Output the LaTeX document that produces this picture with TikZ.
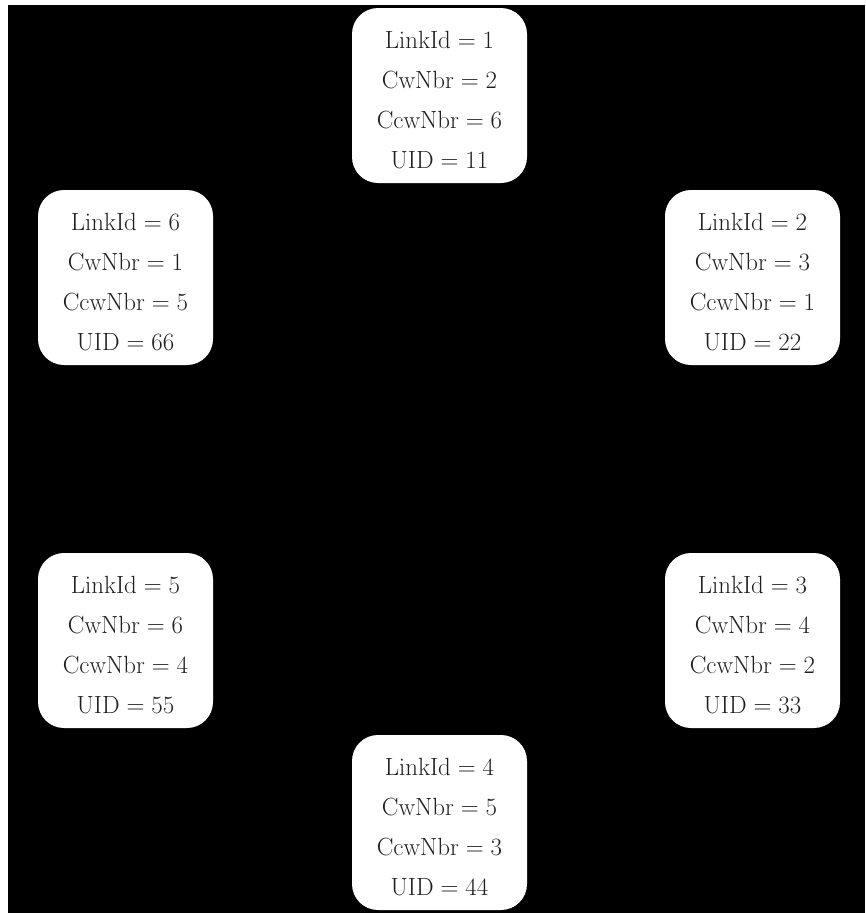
\documentclass[tikz,border=0pt]{standalone}
\begin{document}
\begin{tikzpicture}[x=1pt,y=-1pt,
  linkbox/.style={fill=white, draw=none, rounded corners=26pt,
    minimum width=175pt, minimum height=175pt, inner sep=0pt},
  linktext/.style={inner sep=0pt, align=center, text=black!88,
    font=\fontsize{24.5}{40}\selectfont}]
\fill[white] (0,0) rectangle (865,913);
\fill[black] (8,5) rectangle (865,913);
\useasboundingbox (0,0) rectangle (865,913);
\node[linkbox] (n1) at (439.5,95.5) {};
\node[linkbox] (n2) at (752.5,277.5) {};
\node[linkbox] (n3) at (752.5,640.5) {};
\node[linkbox] (n4) at (439.5,822.5) {};
\node[linkbox] (n5) at (125.5,640.5) {};
\node[linkbox] (n6) at (125.5,277.5) {};
\node[linktext] (t1) at ([yshift=-4.5pt]n1.center) {$\mathrm{LinkId}=1$\\ $\mathrm{CwNbr}=2$\\ $\mathrm{CcwNbr}=6$\\ $\mathrm{UID}=11$};
\node[linktext] (t2) at ([yshift=-4.5pt]n2.center) {$\mathrm{LinkId}=2$\\ $\mathrm{CwNbr}=3$\\ $\mathrm{CcwNbr}=1$\\ $\mathrm{UID}=22$};
\node[linktext] (t3) at ([yshift=-4.5pt]n3.center) {$\mathrm{LinkId}=3$\\ $\mathrm{CwNbr}=4$\\ $\mathrm{CcwNbr}=2$\\ $\mathrm{UID}=33$};
\node[linktext] (t4) at ([yshift=-4.5pt]n4.center) {$\mathrm{LinkId}=4$\\ $\mathrm{CwNbr}=5$\\ $\mathrm{CcwNbr}=3$\\ $\mathrm{UID}=44$};
\node[linktext] (t5) at ([yshift=-4.5pt]n5.center) {$\mathrm{LinkId}=5$\\ $\mathrm{CwNbr}=6$\\ $\mathrm{CcwNbr}=4$\\ $\mathrm{UID}=55$};
\node[linktext] (t6) at ([yshift=-4.5pt]n6.center) {$\mathrm{LinkId}=6$\\ $\mathrm{CwNbr}=1$\\ $\mathrm{CcwNbr}=5$\\ $\mathrm{UID}=66$};
\end{tikzpicture}
\end{document}
